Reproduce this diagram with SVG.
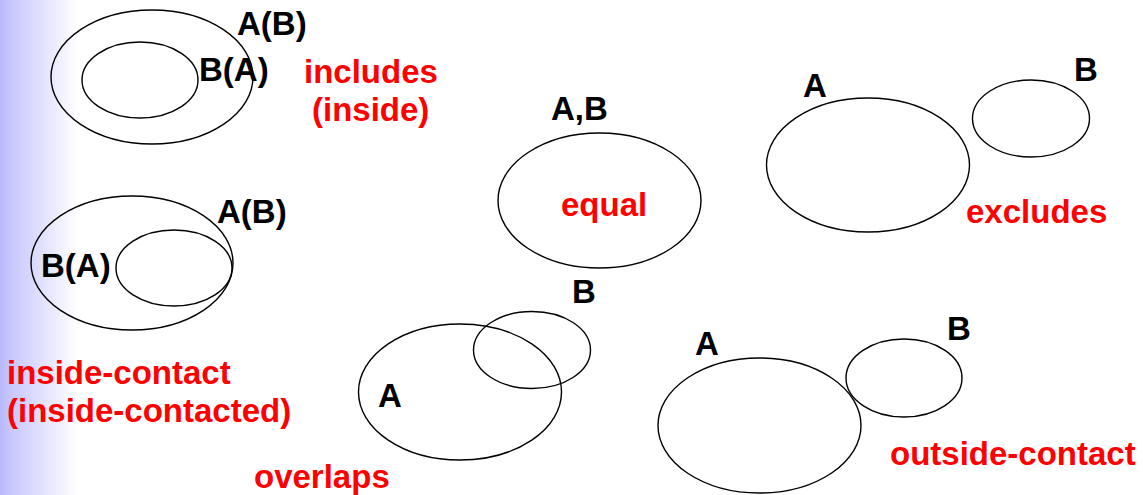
<svg xmlns="http://www.w3.org/2000/svg" width="1143" height="495" viewBox="0 0 1143 495">
<defs>
<linearGradient id="bg" x1="0" y1="0" x2="1" y2="0">
<stop offset="0" stop-color="#b8b8fc"/>
<stop offset="0.15" stop-color="#c8c8fc"/>
<stop offset="1" stop-color="#ffffff"/>
</linearGradient>
<style>
ellipse{fill:none;stroke:#000;stroke-width:1.4}
text{font-family:"Liberation Sans",Arial,sans-serif;font-weight:bold;font-size:33px}
.k{fill:#000}
.r{fill:#ff0000}
</style>
</defs>
<rect x="0" y="0" width="1143" height="495" fill="#fff"/>
<rect x="0" y="0" width="78" height="495" fill="url(#bg)"/>
<g id="includes">
<ellipse cx="152" cy="77" rx="101" ry="67"/>
<ellipse cx="140" cy="80" rx="58" ry="38"/>
<text class="k" x="237" y="35">A(B)</text>
<text class="k" x="199" y="81">B(A)</text>
<text class="r" x="304" y="83">includes</text>
<text class="r" x="312" y="121">(inside)</text>
</g>
<g id="inside-contact">
<ellipse cx="132" cy="263" rx="101" ry="67"/>
<ellipse cx="174" cy="268" rx="58" ry="38"/>
<text class="k" x="217" y="223">A(B)</text>
<text class="k" x="41" y="277">B(A)</text>
<text class="r" x="7" y="384">inside-contact</text>
<text class="r" x="7" y="422">(inside-contacted)</text>
</g>
<g id="equal">
<ellipse cx="599.5" cy="200.5" rx="101.5" ry="67.5"/>
<text class="k" x="551" y="120">A,B</text>
<text class="r" x="561" y="216">equal</text>
</g>
<g id="excludes">
<ellipse cx="868" cy="165" rx="101.5" ry="67"/>
<ellipse cx="1031" cy="118.5" rx="58.5" ry="38.5"/>
<text class="k" x="803" y="97">A</text>
<text class="k" x="1074" y="81">B</text>
<text class="r" x="966" y="223">excludes</text>
</g>
<g id="overlaps">
<ellipse cx="460" cy="392" rx="101.5" ry="68"/>
<ellipse cx="532" cy="350" rx="58.5" ry="38.5"/>
<text class="k" x="378" y="407">A</text>
<text class="k" x="572" y="303">B</text>
<text class="r" x="254" y="488">overlaps</text>
</g>
<g id="outside-contact">
<ellipse cx="759.5" cy="425.5" rx="101.5" ry="67.5"/>
<ellipse cx="904" cy="378" rx="58" ry="39"/>
<text class="k" x="695" y="355">A</text>
<text class="k" x="947" y="340">B</text>
<text class="r" x="890" y="465">outside-contact</text>
</g>
<g id="connectors"/>
</svg>
